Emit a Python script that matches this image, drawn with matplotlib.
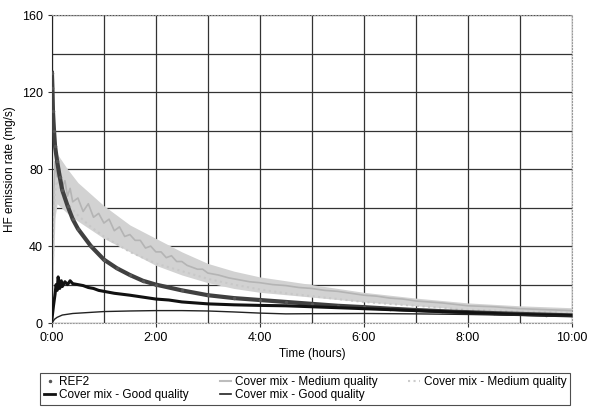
#!/usr/bin/env python3
"""HF emission rate over time for REF2 and cover mixes."""

import matplotlib
matplotlib.use("Agg")
import matplotlib.pyplot as plt
from matplotlib.lines import Line2D
from matplotlib.ticker import MultipleLocator, FuncFormatter

plt.rcParams['font.family'] = ['Liberation Sans', 'DejaVu Sans']

# REF2 (hours, mg/s)
ref2_t = [0.0, 0.01, 0.02, 0.04, 0.06, 0.1, 0.15, 0.2, 0.3, 0.4, 0.5, 0.75, 1.0,
          1.25, 1.5, 1.75, 2.0, 2.5, 3.0, 3.5, 4.0, 4.5, 5.0, 5.5, 6.0, 6.5,
          7.0, 7.5, 8.0, 8.5, 9.0, 9.5, 10.0]
ref2_v = [130, 122, 110, 100, 92, 84, 76, 69, 61, 54, 49, 40, 33,
          28.5, 25, 22, 20, 17, 14.5, 13, 12, 11, 10, 9, 8.3, 7.5,
          6.8, 6.2, 5.7, 5.2, 4.8, 4.4, 4.0]

# Cover mix - Medium quality (first series): centre line and scatter envelope
med1_t = [0.0, 0.02, 0.04, 0.06, 0.1, 0.15, 0.2, 0.25, 0.3, 0.35, 0.4, 0.5,
          0.6, 0.7, 0.8, 0.9, 1.0, 1.1, 1.2, 1.3, 1.4, 1.5, 1.6, 1.7, 1.8,
          1.9, 2.0, 2.1, 2.2, 2.3, 2.4, 2.5, 2.6, 2.7, 2.8, 2.9, 3.0, 3.2,
          3.4, 3.6, 3.8, 4.0, 4.25, 4.5, 4.75, 5.0, 5.25, 5.5, 5.75, 6.0,
          6.25, 6.5, 6.75, 7.0, 7.5, 8.0, 8.5, 9.0, 9.5, 10.0]
med1_v = [5, 40, 70, 84, 76, 80, 71, 74, 66, 70, 63, 65,
          58, 62, 55, 57, 52, 54, 48, 50, 45, 46, 43, 43, 39,
          40, 37, 37, 34, 35, 32, 32, 30, 29, 28, 28, 26, 25,
          23.5, 22.5, 21.5, 21, 20, 19.5, 18.5, 18, 17, 16.5, 15.5, 14.5,
          14, 13, 12.5, 11.5, 10.5, 9, 8.5, 7.5, 7, 6.5]
med1_env_t = [0.0, 0.03, 0.06, 0.1, 0.3, 0.5, 1.0, 1.5, 2.0, 2.5, 3.0,
              3.5, 4.0, 5.0, 6.0, 7.0, 8.0, 9.0, 10.0]
med1_lo = [2, 30, 55, 62, 57, 53, 44, 37, 30, 25, 21,
           18, 16, 13.5, 11, 9, 7, 6, 5]
med1_hi = [10, 60, 90, 88, 80, 73, 61, 51, 44, 37, 31,
           27, 24, 20, 16, 13, 10.5, 9, 8]

# Cover mix - Medium quality (second series)
med2_t = [0.0, 0.03, 0.06, 0.1, 0.2, 0.3, 0.5, 0.75, 1.0, 1.25, 1.5, 1.75,
          2.0, 2.5, 3.0, 3.5, 4.0, 4.5, 5.0, 5.5, 6.0, 7.0, 8.0, 9.0, 10.0]
med2_v = [3, 45, 68, 74, 66, 62, 56, 50, 45, 41, 37, 34,
          31, 27, 23, 20, 17.5, 15.5, 14, 12.5, 11, 9, 7, 6, 5.5]

# Cover mix - Good quality (first series, thick)
good1_t = [0.0, 0.03, 0.06, 0.08, 0.1, 0.12, 0.15, 0.18, 0.2, 0.25, 0.3,
           0.35, 0.4, 0.5, 0.6, 0.7, 0.8, 0.9, 1.0, 1.1, 1.2, 1.35, 1.5,
           1.75, 2.0, 2.25, 2.5, 3.0, 3.5, 4.0, 4.5, 5.0, 6.0, 7.0, 8.0,
           9.0, 10.0]
good1_v = [2, 9, 15, 20, 17, 24, 18, 22, 19, 21.5, 20, 22, 20.5, 20, 19.5,
           18.5, 18, 17, 16.5, 16, 15.5, 15, 14.5, 13.5, 12.5, 12, 11,
           10, 9.5, 9.2, 9, 8.5, 7.5, 6.5, 5.5, 4.5, 4.0]

# Cover mix - Good quality (second series, thin)
good2_t = [0.0, 0.05, 0.1, 0.2, 0.4, 0.7, 1.0, 1.5, 2.0, 2.5, 3.0, 3.5,
           4.0, 4.5, 5.0, 6.0, 7.0, 8.0, 9.0, 10.0]
good2_v = [0, 2, 3, 4.2, 5, 5.5, 6, 6.3, 6.5, 6.5, 6.3, 5.8,
           5.2, 4.8, 4.9, 5, 4.8, 4.5, 4.0, 3.5]

x_ticks = [0, 2, 4, 6, 8, 10]
y_ticks = [0, 40, 80, 120, 160]


def hours_fmt(x, pos):
    return f"{int(x)}:00"


fig = plt.figure(figsize=(5.9, 4.09), dpi=100)
ax = fig.add_axes([0.088, 0.21, 0.881, 0.753])

ax.fill_between(med1_env_t, med1_lo, med1_hi, color='#d2d2d2', linewidth=0,
                zorder=2)
ax.plot(med1_t, med1_v, color='#b4b4b4', linewidth=1.2, zorder=2)
ax.plot(med2_t, med2_v, color='#c8c8c8', linewidth=1.5, linestyle=':', zorder=2)
ax.plot(ref2_t, ref2_v, color='#404040', linewidth=3.0, zorder=3)
ax.plot(ref2_t, ref2_v, linestyle='none', marker='.', markersize=3,
        color='#555555', zorder=3)
ax.plot(good1_t, good1_v, color='#111111', linewidth=2.2, zorder=4)
ax.plot(good2_t, good2_v, color='#222222', linewidth=1.0, zorder=4)

ax.set_xlim(0, 10)
ax.set_ylim(0, 160)
ax.set_xticks(x_ticks)
ax.set_yticks(y_ticks)
ax.xaxis.set_minor_locator(MultipleLocator(1))
ax.yaxis.set_minor_locator(MultipleLocator(20))
ax.xaxis.set_major_formatter(FuncFormatter(hours_fmt))
ax.grid(True, which='both', color='#333333', linewidth=0.9)
ax.set_axisbelow(True)
ax.tick_params(labelsize=9, length=3, width=0.8, color='#333333')
ax.tick_params(which='minor', length=0)
for side in ['top', 'right', 'bottom']:
    ax.spines[side].set_color('#999999')
    ax.spines[side].set_linestyle(':')
ax.spines['left'].set_color('#222222')

ax.set_xlabel('Time (hours)', fontsize=8.5, labelpad=3)
ax.set_ylabel('HF emission rate (mg/s)', fontsize=8.5, labelpad=4)

handles = [
    Line2D([], [], linestyle='none', marker='.', markersize=3, color='#555555'),
    Line2D([], [], color='#111111', linewidth=2),
    Line2D([], [], color='#bdbdbd', linewidth=1.5),
    Line2D([], [], color='#222222', linewidth=1.2),
    Line2D([], [], color='#cccccc', linewidth=1.5, linestyle=':'),
]
labels = ['REF2', 'Cover mix - Good quality', 'Cover mix - Medium quality',
          'Cover mix - Good quality', 'Cover mix - Medium quality']
leg = fig.legend(handles, labels, loc='lower left', ncol=3, mode='expand',
                 bbox_to_anchor=(0.068, 0.01, 0.898, 0.09), fontsize=8.5,
                 handlelength=1.0, handletextpad=0.3, borderaxespad=0,
                 labelspacing=0.1, borderpad=0.3, fancybox=False,
                 frameon=True, edgecolor='#222222')
leg.get_frame().set_linewidth(0.8)

fig.savefig('out.png', dpi=100)
